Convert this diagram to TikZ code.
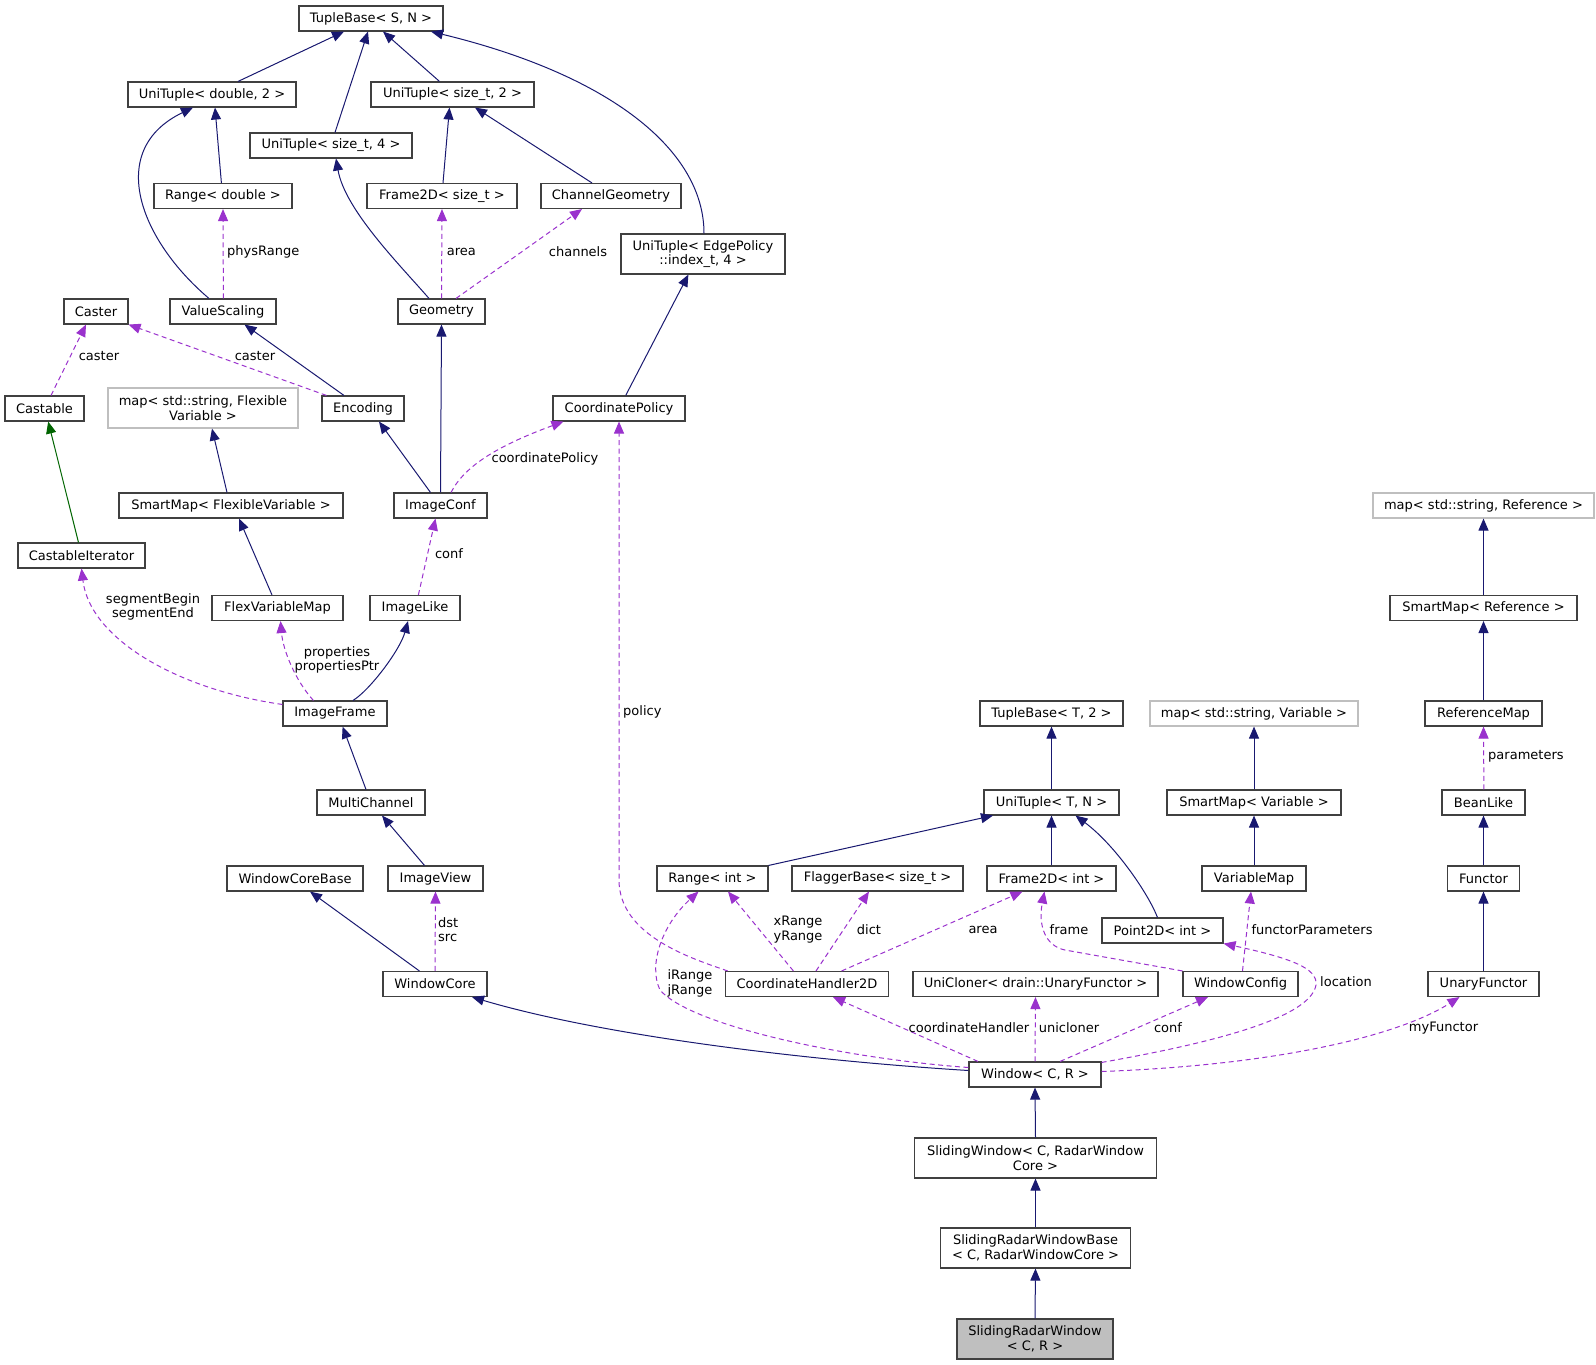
\documentclass[tikz,border=0pt]{standalone}
\usepackage{fontspec}
\setmainfont{DejaVu Sans}
\usetikzlibrary{arrows.meta}
\usepackage{xcolor}
\definecolor{inhblue}{HTML}{191970}
\definecolor{usepurple}{HTML}{9A32CD}
\definecolor{pubgreen}{HTML}{006400}
\definecolor{boxgrey}{HTML}{404040}
\definecolor{extgrey}{HTML}{BFBFBF}
\tikzset{
  cls/.style     = {draw=boxgrey, line width=1.1pt, rectangle, minimum height=25pt,
                    inner sep=0pt, align=center},
  twoline/.style = {minimum height=40pt},
  extcls/.style  = {cls, draw=extgrey},
  inh/.style     = {-{Triangle[length=12pt,width=10pt]}, inhblue, line width=1pt},
  pubinh/.style  = {inh, pubgreen},
  usage/.style   = {-{Triangle[length=12pt,width=10pt]}, usepurple, line width=1pt,
                    dash pattern=on 5pt off 3.5pt},
  lbl/.style     = {inner sep=0pt, align=center},
}

\begin{document}
\begin{tikzpicture}[x=1pt,y=1pt,font=\fontsize{13}{14.5}\selectfont]
\useasboundingbox (0,0) rectangle (1596,-1365);
% ---- tuple bases ----
\node[cls,minimum width=144pt] (TB)   at (371,-18.5)   {TupleBase< S, N >};
\node[cls,minimum width=168pt] (UTd)  at (212,-94.5)   {UniTuple< double, 2 >};
\node[cls,minimum width=163pt] (UTs2) at (452.5,-94.5) {UniTuple< size\_t, 2 >};
\node[cls,minimum width=162pt] (UTs4) at (331,-145.5)  {UniTuple< size\_t, 4 >};
\node[cls,minimum width=138pt] (Rd)   at (223,-196)    {Range< double >};
\node[cls,minimum width=150pt] (F2s)  at (442,-196)    {Frame2D< size\_t >};
\node[cls,minimum width=140pt] (CG)   at (611,-196)    {ChannelGeometry};
\node[cls,twoline,minimum width=164pt] (UTe) at (703,-254) {UniTuple< EdgePolicy\\::index\_t, 4 >};
% ---- image side ----
\node[cls,minimum width=64pt]  (Caster)   at (96,-311.5)   {Caster};
\node[cls,minimum width=106pt] (VS)       at (223,-311.5)  {ValueScaling};
\node[cls,minimum width=87pt]  (Geo)      at (441.5,-311.5){Geometry};
\node[cls,minimum width=79pt]  (Castable) at (44.5,-408.5) {Castable};
\node[extcls,twoline,minimum width=190pt] (mapFV) at (203,-408) {map< std::string, Flexible\\Variable >};
\node[cls,minimum width=82pt]  (Enc)  at (363,-408.5)  {Encoding};
\node[cls,minimum width=132pt] (CP)   at (619,-408.5)  {CoordinatePolicy};
\node[cls,minimum width=224pt] (SMF)  at (231,-505.5)  {SmartMap< FlexibleVariable >};
\node[cls,minimum width=93pt]  (IC)   at (440.5,-505.5){ImageConf};
\node[cls,minimum width=127pt] (CI)   at (81.5,-555.5) {CastableIterator};
\node[cls,minimum width=131pt] (FVM)  at (277.5,-608)  {FlexVariableMap};
\node[cls,minimum width=90pt]  (IL)   at (415,-608)    {ImageLike};
\node[cls,minimum width=104pt] (IF)   at (335,-713.5)  {ImageFrame};
\node[cls,minimum width=108pt] (MC)   at (371,-802.5)  {MultiChannel};
\node[cls,minimum width=136pt] (WCB)  at (295,-878.5)  {WindowCoreBase};
\node[cls,minimum width=95pt]  (IV)   at (435.5,-878.5){ImageView};
\node[cls,minimum width=104pt] (WC)   at (435,-984)    {WindowCore};
% ---- coordinates ----
\node[cls,minimum width=143pt] (TB2)  at (1051.5,-713.5) {TupleBase< T, 2 >};
\node[cls,minimum width=135pt] (UTN)  at (1051.5,-802.5) {UniTuple< T, N >};
\node[cls,minimum width=111pt] (Ri)   at (712.5,-878.5)  {Range< int >};
\node[cls,minimum width=171pt] (FB)   at (877.5,-878.5)  {FlaggerBase< size\_t >};
\node[cls,minimum width=129pt] (F2i)  at (1051.5,-878.5) {Frame2D< int >};
\node[cls,minimum width=121pt] (P2D)  at (1162.5,-930.5) {Point2D< int >};
\node[cls,minimum width=163.5pt] (CH2D) at (807,-984)    {CoordinateHandler2D};
\node[cls,minimum width=245pt] (UC)   at (1035.5,-984)   {UniCloner< drain::UnaryFunctor >};
% ---- maps and functors ----
\node[extcls,minimum width=221pt] (mapR) at (1483.5,-505.5) {map< std::string, Reference >};
\node[cls,minimum width=187pt] (SMR)  at (1483.5,-608)   {SmartMap< Reference >};
\node[extcls,minimum width=208pt] (mapV) at (1254,-713.5) {map< std::string, Variable >};
\node[cls,minimum width=117pt] (RM)   at (1483.5,-713.5) {ReferenceMap};
\node[cls,minimum width=174pt] (SMV)  at (1254,-802.5)   {SmartMap< Variable >};
\node[cls,minimum width=83pt]  (BL)   at (1483.5,-802.5) {BeanLike};
\node[cls,minimum width=104pt] (VM)   at (1254,-878.5)   {VariableMap};
\node[cls,minimum width=72pt]  (Fn)   at (1483.5,-878.5) {Functor};
\node[cls,minimum width=115pt] (WCfg) at (1240.5,-984)   {WindowConfig};
\node[cls,minimum width=111pt] (UF)   at (1483.5,-984)   {UnaryFunctor};
% ---- window chain ----
\node[cls,minimum width=132pt] (Win)  at (1035,-1074.5)  {Window< C, R >};
\node[cls,twoline,minimum width=241.5pt] (SW)   at (1035.5,-1158) {SlidingWindow< C, RadarWindow\\Core >};
\node[cls,twoline,minimum width=190.5pt] (SRWB) at (1035.5,-1248) {SlidingRadarWindowBase\\< C, RadarWindowCore >};
\node[cls,twoline,minimum width=156pt,fill=extgrey] (SRW) at (1035,-1339) {SlidingRadarWindow\\< C, R >};

% ---- inheritance ----
\draw[inh] ([xshift=26]UTd.north) -- ([xshift=-27]TB.south);
\draw[inh] ([xshift=4]UTs4.north) -- ([xshift=-3]TB.south);
\draw[inh] ([xshift=-13]UTs2.north) -- ([xshift=12]TB.south);
\draw[inh] ([xshift=1]UTe.north) .. controls (704,-150) and (610,-75) .. ([xshift=60]TB.south);
\draw[inh] ([xshift=-1.6]Rd.north) -- ([xshift=3]UTd.south);
\draw[inh] ([xshift=-14]VS.north) .. controls (140,-240) and (105,-150) .. ([xshift=-19]UTd.south);
\draw[inh] ([xshift=1]F2s.north) -- ([xshift=-3]UTs2.south);
\draw[inh] ([xshift=-19]CG.north) -- ([xshift=22.5]UTs2.south);
\draw[inh] ([xshift=-12.5]Geo.north) .. controls (400,-265) and (345,-210) .. ([xshift=5]UTs4.south);
\draw[inh] ([xshift=-19]Enc.north) -- ([xshift=21.5]VS.south);
\draw[inh] ([xshift=-10]IC.north) -- ([xshift=16]Enc.south);
\draw[inh] ([xshift=6.7]CP.north) -- ([xshift=-14.6]UTe.south);
\draw[inh] ([xshift=-4]SMF.north) -- ([xshift=9]mapFV.south);
\draw[inh] ([xshift=-5.5]FVM.north) -- ([xshift=8]SMF.south);
\draw[pubinh] ([xshift=-3]CI.north) -- ([xshift=3.7]Castable.south);
\draw[inh] ([xshift=18]IF.north) .. controls (370,-690) and (400,-650) .. ([xshift=-7]IL.south);
\draw[inh] ([xshift=-5]MC.north) -- ([xshift=7.6]IF.south);
\draw[inh] ([xshift=-11]IV.north) -- ([xshift=11]MC.south);
\draw[inh] ([xshift=-15.6]WC.north) -- ([xshift=15]WCB.south);
\draw[inh] ([yshift=4]Win.west) .. controls (800,-1060) and (600,-1035) .. ([xshift=37]WC.south);
\draw[inh] (Ri.north east) -- ([xshift=-58.5]UTN.south);
\draw[inh] ([xshift=-5]P2D.north) .. controls (1148,-893) and (1115,-845) .. ([xshift=24]UTN.south);
\foreach \a/\b in {IC/Geo, UTN/TB2, F2i/UTN, SMV/mapV, VM/SMV, SMR/mapR, RM/SMR,
                   Fn/BL, UF/Fn, SW/Win, SRWB/SW, SRW/SRWB}
  \draw[inh] (\a.north) -- (\b.south);

% ---- members ----
\foreach \a/\b in {Geo/F2s, WC/IV, Win/UC}
  \draw[usage] (\a.north) -- (\b.south);
\draw[usage] ([xshift=0.4]VS.north) -- (Rd.south);
\draw[usage] ([xshift=0.4]BL.north) -- (RM.south);
\draw[usage] ([xshift=14.5]Geo.north) -- ([xshift=-29]CG.south);
\draw[usage] ([xshift=6.5]Castable.north) -- ([xshift=-10]Caster.south);
\draw[usage] ([xshift=5]Enc.north west) -- (Caster.south east);
\draw[usage] ([xshift=10.5]IC.north) .. controls (465,-465) and (500,-445) .. ([xshift=11]CP.south west);
\draw[usage] ([xshift=3]CH2D.north west) .. controls (690,-958) and (619,-935) .. (619,-880) -- (CP.south);
\draw[usage] ([xshift=3.4]IL.north) -- ([xshift=-5]IC.south);
\draw[usage] ([yshift=-4]IF.north west) .. controls (180,-690) and (90,-640) .. (CI.south);
\draw[usage] ([xshift=-21.6]IF.north) .. controls (295,-680) and (283,-650) .. ([xshift=3]FVM.south);
\draw[usage] ([yshift=7]Win.west) .. controls (840,-1058) and (690,-1025) .. (660,-990)
             .. controls (648,-965) and (662,-925) .. ([xshift=-14]Ri.south);
\draw[usage] ([xshift=-13.6]CH2D.north) -- ([xshift=15.5]Ri.south);
\draw[usage] ([xshift=9]CH2D.north) -- ([xshift=-8.5]FB.south);
\draw[usage] ([xshift=34.6]CH2D.north) -- ([xshift=-29]F2i.south);
\draw[usage] (WCfg.north west) -- (1065,-950) .. controls (1045,-946) and (1038,-925) .. ([xshift=-7]F2i.south);
\draw[usage] ([xshift=2]WCfg.north) -- ([xshift=-3]VM.south);
\draw[usage] ([yshift=-1]Win.north east) .. controls (1200,-1045) and (1310,-1020) .. (1316,-985)
             .. controls (1318,-968) and (1290,-958) .. (P2D.south east);
\draw[usage] ([xshift=-57]Win.north) -- ([xshift=26]CH2D.south);
\draw[usage] ([xshift=25]Win.north) -- ([xshift=-32.5]WCfg.south);
\draw[usage] ([yshift=3]Win.east) .. controls (1280,-1065) and (1400,-1035) .. ([xshift=-24]UF.south);

% ---- member labels ----
\node[lbl,anchor=west] (lPhys)  at (227,-252)   {physRange};
\node[lbl,anchor=west] (lArea1) at (446.6,-252) {area};
\node[lbl] (lChan)  at (578,-252)   {channels};
\node[lbl] (lCast1) at (99,-356)    {caster};
\node[lbl] (lCast2) at (255,-356)   {caster};
\node[lbl] (lCoord) at (545,-459)   {coordinatePolicy};
\node[lbl] (lConf1) at (449,-554)   {conf};
\node[lbl] (lSeg)   at (153,-607)   {segmentBegin\\segmentEnd};
\node[lbl] (lProp)  at (337,-660)   {properties\\propertiesPtr};
\node[lbl,anchor=west] (lPol)   at (623,-712)  {policy};
\node[lbl,anchor=west] (lParam) at (1488,-756) {parameters};
\node[lbl,anchor=west,align=left] (lDst) at (438,-929.5) {dst\\src};
\node[lbl] (lIJ)    at (690,-983.5)  {iRange\\jRange};
\node[lbl] (lXY)    at (798,-929.5)  {xRange\\yRange};
\node[lbl] (lDict)  at (869,-930)    {dict};
\node[lbl] (lArea2) at (983,-930)    {area};
\node[lbl] (lFrame) at (1069,-930)   {frame};
\node[lbl] (lFunc)  at (1312,-930)   {functorParameters};
\node[lbl] (lLoc)   at (1346,-982)   {location};
\node[lbl] (lCH)    at (969,-1028)   {coordinateHandler};
\node[lbl] (lUni)   at (1069,-1028)  {unicloner};
\node[lbl] (lConf2) at (1168,-1028)  {conf};
\node[lbl] (lMy)    at (1443.5,-1028){myFunctor};
\end{tikzpicture}
\end{document}
